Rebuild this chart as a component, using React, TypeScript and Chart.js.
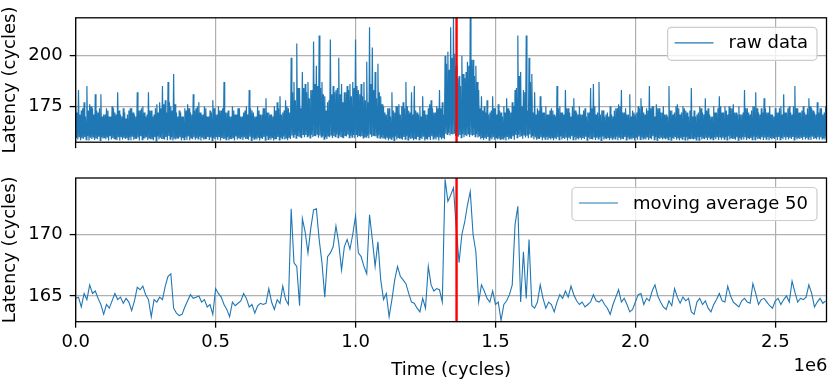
import React, { useEffect, useRef } from 'react';
import { Chart, registerables } from 'chart.js';

Chart.register(...registerables);

const SAMPLE_STEP = 10000;
const X_MAX = 2683000;
const MARKER_X = 1361000;

const xTicks = [0, 500000, 1000000, 1500000, 2000000, 2500000];
const rawYTicks = [175, 200];
const avgYTicks = [165, 170];
const rawYRange = [157.3, 218.7];
const avgYRange = [162.9, 174.6];

const rawLabel = 'raw data';
const avgLabel = 'moving average 50';
const xTitle = 'Time (cycles)';
const yTitle = 'Latency (cycles)';
const xOffsetText = '1e6';

// spike tops of the raw data per 10k-cycle bin
const rawHigh = [
  175, 183, 173, 177, 185, 176, 174, 181, 172, 181,
  171, 174, 170, 175, 172, 182, 171, 174, 169, 173,
  174, 171, 182, 173, 175, 170, 182, 173, 171, 176,
  177, 185, 178, 187, 175, 191, 172, 173, 170, 174,
  176, 172, 181, 174, 177, 171, 175, 170, 173, 178,
  171, 175, 173, 187, 172, 170, 175, 171, 174, 170,
  172, 175, 183, 173, 170, 175, 171, 174, 179, 172,
  171, 175, 177, 180, 172, 178, 174, 199, 187, 206,
  184, 192, 186, 187, 183, 207, 195, 210, 187, 180,
  177, 208, 185, 183, 199, 186, 182, 185, 186, 187,
  208, 183, 186, 187, 197, 214, 204, 192, 196, 180,
  175, 171, 174, 182, 172, 175, 171, 177, 187, 173,
  182, 185, 172, 175, 180, 171, 174, 178, 172, 175,
  183, 177, 200, 202, 214, 222, 195, 190, 200, 189,
  197, 222, 198, 195, 183, 180, 175, 178, 172, 180,
  174, 176, 172, 175, 179, 173, 177, 183, 210, 192,
  183, 210, 199, 191, 182, 174, 180, 172, 175, 171,
  174, 171, 185, 175, 172, 183, 174, 170, 179, 172,
  175, 171, 174, 172, 184, 186, 171, 187, 173, 170,
  172, 175, 170, 174, 176, 183, 172, 171, 181, 173,
  171, 175, 179, 172, 174, 185, 175, 170, 174, 172,
  175, 171, 185, 173, 172, 176, 171, 175, 173, 170,
  184, 173, 171, 175, 172, 179, 174, 170, 175, 172,
  180, 172, 175, 171, 174, 176, 172, 175, 171, 183,
  174, 171, 175, 182, 172, 174, 179, 172, 175, 171,
  174, 172, 175, 181, 172, 175, 171, 185, 174, 172,
  175, 171, 179, 174, 172, 177, 174, 171, 175,
];

// typical top of the dense raw band per bin
const rawMid = [
  172, 171, 174, 170, 173, 175, 171, 173, 174, 170,
  171, 173, 170, 174, 171, 173, 170, 172, 171, 174,
  172, 170, 173, 174, 172, 171, 173, 170, 174, 172,
  174, 176, 172, 177, 173, 176, 170, 172, 170, 173,
  174, 171, 173, 175, 172, 171, 174, 170, 172, 174,
  171, 173, 174, 172, 173, 170, 173, 171, 174, 170,
  173, 171, 174, 172, 170, 173, 171, 174, 172, 171,
  170, 173, 174, 171, 173, 175, 172, 182, 178, 184,
  174, 184, 182, 179, 183, 186, 185, 184, 181, 173,
  178, 181, 182, 184, 181, 177, 182, 183, 180, 184,
  185, 181, 180, 178, 177, 186, 183, 179, 182, 176,
  172, 174, 170, 173, 175, 176, 175, 174, 175, 172,
  171, 173, 171, 170, 173, 171, 176, 174, 172, 174,
  174, 171, 196, 193, 199, 201, 189, 185, 191, 192,
  195, 198, 190, 187, 174, 173, 172, 171, 173, 174,
  171, 173, 170, 172, 174, 172, 175, 184, 190, 175,
  182, 173, 187, 172, 171, 173, 175, 172, 171, 173,
  173, 170, 174, 172, 171, 174, 172, 175, 173, 171,
  171, 173, 170, 172, 174, 175, 172, 171, 173, 171,
  170, 171, 173, 174, 175, 172, 174, 171, 170, 172,
  172, 174, 175, 171, 173, 174, 175, 176, 174, 172,
  171, 170, 173, 171, 175, 174, 172, 174, 172, 173,
  170, 170, 172, 174, 171, 173, 171, 170, 172, 174,
  175, 172, 173, 175, 174, 172, 171, 171, 172, 174,
  172, 173, 175, 174, 171, 172, 174, 172, 171, 170,
  172, 174, 171, 172, 174, 172, 175, 174, 172, 173,
  172, 174, 175, 173, 171, 172, 174, 172, 172,
];

// lower dips of the raw data per bin (first half)
const rawLow = [
  159.4, 160.1, 159.2, 159.8, 160.3, 159.5, 159.9, 159.1, 160.0, 159.6,
  159.3, 159.9, 160.2, 159.4, 158.6, 159.7, 160.1, 159.5, 159.2, 159.8,
  160.0, 159.3, 159.6, 160.2, 159.1, 159.8, 159.4, 158.8, 159.7, 160.1,
  159.5, 159.2, 159.9, 160.3, 159.6, 159.0, 159.4, 159.8, 159.3, 159.7,
  160.1, 159.4, 159.8, 159.2, 160.0, 159.5, 159.1, 159.9, 159.6, 159.3,
  159.8, 160.2, 159.4, 159.0, 159.7, 158.9, 159.5, 160.1, 159.3, 159.8,
  159.6, 159.2, 160.0, 159.4, 159.1, 159.8, 159.5, 159.9, 160.2, 159.3,
  159.7, 159.1, 159.9, 159.5, 160.1, 159.4, 159.8, 160.6, 160.9, 160.4,
  159.9, 161.2, 160.8, 160.5, 161.0, 160.7, 161.3, 160.6, 160.2, 159.6,
  160.4, 160.9, 160.3, 161.1, 160.6, 159.8, 160.7, 161.0, 160.5, 160.9,
  161.2, 160.6, 160.3, 159.9, 160.5, 161.4, 160.8, 160.2, 160.7, 159.8,
  159.4, 159.8, 159.0, 159.6, 160.1, 159.7, 159.3, 159.9, 160.2, 159.5,
  159.6, 159.2, 159.9, 159.4, 160.0, 159.1, 159.8, 160.3, 159.5, 159.7,
  159.9, 159.4, 161.5, 162.0, 161.3, 161.8, 160.6, 160.9, 161.2, 160.7,
  161.4, 161.0, 160.8, 161.2, 160.1, 159.7, 159.4, 159.9, 159.2, 159.8,
  159.5, 159.1, 158.7, 159.6, 159.9, 159.4, 160.2, 160.8, 161.0, 160.3,
  160.9, 160.5, 161.1, 160.4, 159.8, 159.3, 159.7, 159.5, 159.9, 159.2,
  159.6, 159.3, 159.8, 160.1, 159.4, 159.9, 159.5, 160.2, 159.7, 159.1,
  159.8, 159.4, 160.0, 159.6, 159.2, 159.9, 159.5, 159.8, 160.1, 159.4,
  159.7, 159.2, 159.5, 160.0, 159.8, 159.3, 159.9, 159.6, 159.1, 159.5,
  159.8, 160.1, 159.6, 159.3, 159.9, 159.5, 160.2, 159.7, 159.4, 159.8,
  159.5, 159.1, 159.8, 159.4, 160.0, 159.6, 159.3, 159.9, 159.7, 159.2,
  159.3, 159.0, 159.7, 159.9, 159.4, 159.8, 159.5, 159.2, 159.6, 160.0,
  159.9, 159.5, 159.8, 160.2, 159.6, 159.3, 159.7, 159.4, 159.8, 160.1,
  159.6, 159.4, 160.0, 159.7, 159.3, 159.8, 159.5, 159.9, 159.2, 159.6,
  159.7, 159.9, 159.4, 159.8, 160.1, 159.5, 159.9, 159.6, 159.3, 159.8,
  159.9, 159.4, 159.7, 160.0, 159.5, 159.8, 159.6, 159.3, 159.7,
];

// deepest dips of the raw data per bin (second half)
const rawLowB = [
  158.7, 158.3, 159.0, 158.5, 158.1, 158.9, 158.4, 158.8, 158.2, 159.1,
  158.8, 158.2, 158.6, 159.0, 158.4, 158.1, 158.7, 158.9, 158.5, 158.3,
  158.5, 158.9, 158.2, 158.6, 159.1, 158.4, 158.8, 158.3, 158.0, 158.7,
  158.9, 158.6, 158.3, 158.8, 158.1, 158.7, 159.0, 158.2, 158.6, 158.4,
  158.3, 158.8, 158.5, 158.9, 158.2, 158.7, 159.0, 158.4, 158.1, 158.8,
  158.5, 158.1, 158.9, 158.6, 158.3, 158.8, 158.2, 158.7, 159.0, 158.4,
  158.9, 158.5, 158.2, 158.8, 158.6, 158.1, 158.9, 158.3, 158.7, 158.5,
  158.2, 158.8, 158.4, 159.0, 158.6, 158.3, 158.9, 159.8, 159.3, 160.0,
  159.2, 159.7, 160.1, 159.4, 159.9, 160.2, 159.5, 159.9, 158.8, 158.9,
  159.8, 159.4, 160.0, 159.6, 159.9, 159.2, 160.1, 159.5, 159.8, 159.3,
  159.7, 160.0, 159.4, 159.8, 159.2, 159.9, 160.2, 159.6, 159.3, 159.1,
  158.7, 158.3, 158.8, 158.2, 158.6, 159.0, 158.5, 158.8, 158.4, 158.9,
  158.3, 158.7, 158.5, 158.9, 158.2, 158.6, 158.4, 158.9, 158.7, 158.2,
  158.6, 158.8, 161.2, 160.6, 161.1, 160.4, 160.0, 159.6, 159.8, 160.3,
  159.9, 160.5, 160.1, 159.6, 158.8, 158.4, 158.9, 158.3, 158.7, 158.5,
  158.8, 158.4, 158.9, 158.2, 158.6, 158.9, 158.5, 159.6, 159.9, 159.0,
  159.6, 159.2, 159.8, 158.7, 158.5, 158.9, 158.3, 158.8, 158.4, 158.7,
  158.3, 158.8, 158.5, 158.7, 158.9, 158.2, 158.8, 158.5, 158.3, 158.6,
  158.5, 158.9, 158.3, 158.8, 158.6, 158.4, 158.9, 158.2, 158.7, 158.8,
  158.4, 158.8, 158.9, 158.3, 158.5, 158.8, 158.4, 158.9, 158.6, 158.2,
  158.5, 158.7, 158.9, 158.6, 158.4, 158.8, 158.5, 158.3, 158.9, 158.6,
  158.8, 158.6, 158.3, 158.9, 158.5, 158.3, 158.8, 158.4, 158.2, 158.8,
  158.7, 158.4, 158.3, 158.6, 158.8, 158.4, 158.9, 158.6, 158.8, 158.4,
  158.5, 158.8, 158.4, 158.7, 158.9, 158.5, 158.3, 158.8, 158.6, 158.4,
  158.8, 158.6, 158.5, 158.9, 158.6, 158.4, 158.8, 158.3, 158.7, 158.9,
  158.4, 158.6, 158.8, 158.5, 158.7, 158.9, 158.4, 158.6, 158.9, 158.5,
  158.6, 158.8, 158.4, 158.9, 158.7, 158.5, 158.9, 158.7, 158.4,
];

// moving average (window 50), one value per 10k cycles
const movingAvg = [
  164.8, 164.9, 164.1, 165.2, 164.7, 165.9, 165.2, 165.4, 164.8, 164.3,
  163.5, 164.3, 164.0, 164.6, 165.2, 164.7, 164.9, 164.4, 164.8, 164.5,
  163.8, 164.6, 165.7, 165.5, 165.8, 165.1, 164.7, 163.3, 164.7, 164.5,
  164.9, 164.7, 165.8, 166.6, 166.8, 164.0, 163.6, 163.4, 163.5, 164.1,
  164.6, 165.1, 164.8, 164.9, 165.0, 164.5, 164.7, 164.1, 164.3, 163.5,
  165.6, 165.2, 164.9, 164.3, 163.9, 163.3, 164.5, 164.2, 164.4, 164.6,
  165.2, 164.8, 164.1, 164.3, 163.6, 164.2, 164.4, 164.3, 164.4, 165.6,
  164.5, 163.9, 164.7, 164.4, 165.8, 164.7, 164.3, 172.1, 167.7, 167.4,
  164.2, 171.3, 170.2, 168.5, 170.5, 172.0, 172.1, 169.6, 167.7, 164.9,
  168.2, 168.5, 169.0, 170.7, 169.3, 167.1, 169.0, 169.6, 168.8, 170.0,
  171.5, 168.5, 168.2, 167.4, 166.8, 171.6, 169.6, 167.4, 169.4, 166.3,
  164.7, 165.2, 163.3, 164.7, 166.3, 167.4, 166.6, 166.3, 166.0, 165.2,
  164.5, 164.4, 164.0, 163.7, 164.8, 164.0, 167.4, 165.9, 165.4, 165.6,
  165.5, 164.5, 174.5, 172.7, 173.2, 173.8, 170.5, 167.7, 170.0, 171.0,
  172.4, 173.5, 170.0, 168.6, 164.5, 165.9, 165.4, 164.8, 164.5, 165.4,
  164.3, 164.5, 163.0, 164.3, 164.6, 165.1, 165.9, 170.8, 172.3, 164.5,
  168.6, 164.8, 169.6, 164.2, 164.0, 164.5, 165.9, 164.8, 164.0, 164.5,
  164.3, 163.7, 164.5, 165.1, 164.8, 165.4, 164.9, 165.8, 165.1, 164.6,
  164.3, 164.5, 164.1, 164.3, 164.5, 165.1, 164.6, 164.5, 164.7, 164.3,
  164.0, 163.5, 164.3, 164.9, 165.5, 164.5, 164.8, 164.3, 163.7, 163.9,
  164.5, 165.1, 165.2, 164.3, 164.8, 164.6, 165.4, 165.9, 165.0, 164.5,
  164.1, 163.9, 164.6, 164.2, 165.6, 164.9, 164.4, 164.9, 164.6, 164.8,
  163.7, 163.5, 164.5, 164.8, 164.3, 164.6, 164.0, 163.7, 164.3, 164.7,
  165.2, 164.6, 164.5, 165.8, 165.0, 164.5, 164.3, 164.1, 164.6, 164.8,
  164.5, 164.4, 166.0, 165.2, 164.3, 164.7, 164.8, 164.5, 164.2, 164.0,
  164.6, 164.8, 164.3, 164.7, 165.0, 164.5, 166.2, 165.3, 164.5, 164.8,
  164.7, 164.9, 165.9, 165.2, 164.1, 164.5, 164.8, 164.4, 164.6,
];

const BLUE = '#1f77b4';
const FONT_FAMILY = '"DejaVu Sans", sans-serif';
const FONT_SIZE = 18;

function rawPoints() {
  const pts: { x: number; y: number }[] = [];
  const q = SAMPLE_STEP / 4;
  for (let i = 0; i < rawHigh.length; i++) {
    const t = i * SAMPLE_STEP;
    pts.push({ x: t, y: rawHigh[i] });
    pts.push({ x: t + q, y: rawLow[i] });
    pts.push({ x: t + 2 * q, y: rawMid[i] });
    pts.push({ x: t + 3 * q, y: rawLowB[i] });
  }
  return pts;
}

function avgPoints() {
  return movingAvg.map((v, i) => ({ x: i * SAMPLE_STEP, y: v }));
}

const mplPlugin = {
  id: 'mplDecor',
  afterDatasetsDraw(chart: any, _args: any, opts: any) {
    const { ctx, chartArea, scales } = chart;
    const px = scales.x.getPixelForValue(opts.markerX);
    ctx.save();
    ctx.strokeStyle = '#ff0000';
    ctx.lineWidth = 2.4;
    ctx.beginPath();
    ctx.moveTo(px, chartArea.top);
    ctx.lineTo(px, chartArea.bottom);
    ctx.stroke();
    ctx.restore();
  },
  afterDraw(chart: any, _args: any, opts: any) {
    const { ctx, chartArea } = chart;
    ctx.save();
    ctx.strokeStyle = '#000';
    ctx.lineWidth = 1.3;
    ctx.strokeRect(chartArea.left, chartArea.top, chartArea.right - chartArea.left, chartArea.bottom - chartArea.top);
    ctx.font = `${FONT_SIZE}px ${FONT_FAMILY}`;
    const tw = ctx.measureText(opts.label).width;
    const w = 7 + 39 + 15 + tw + 9;
    const h = 33;
    const right = chartArea.right - 9.5;
    const top = chartArea.top + 9.5;
    const left = right - w;
    ctx.beginPath();
    if (ctx.roundRect) ctx.roundRect(left, top, w, h, 4);
    else ctx.rect(left, top, w, h);
    ctx.fillStyle = 'rgba(255,255,255,0.8)';
    ctx.fill();
    ctx.strokeStyle = '#cccccc';
    ctx.lineWidth = 1.2;
    ctx.stroke();
    ctx.strokeStyle = BLUE;
    ctx.lineWidth = 1.2;
    ctx.beginPath();
    ctx.moveTo(left + 7, top + h / 2 - 1);
    ctx.lineTo(left + 46, top + h / 2 - 1);
    ctx.stroke();
    ctx.fillStyle = '#000';
    ctx.textBaseline = 'middle';
    ctx.textAlign = 'left';
    ctx.fillText(opts.label, left + 61, top + h / 2);
    if (opts.offsetText) {
      ctx.textAlign = 'right';
      ctx.fillText(opts.offsetText, chartArea.right + 1, opts.offsetY);
    }
    ctx.restore();
  },
};

function makeConfig(kind: 'raw' | 'avg'): any {
  const isRaw = kind === 'raw';
  const font = { family: FONT_FAMILY, size: FONT_SIZE };
  const yRange = isRaw ? rawYRange : avgYRange;
  const yTicks = isRaw ? rawYTicks : avgYTicks;
  return {
    type: 'line',
    data: {
      datasets: [
        {
          label: isRaw ? rawLabel : avgLabel,
          data: isRaw ? rawPoints() : avgPoints(),
          borderColor: BLUE,
          borderWidth: isRaw ? 1.2 : 1.1,
          pointRadius: 0,
          fill: false,
          tension: 0,
        },
      ],
    },
    options: {
      animation: false,
      responsive: false,
      maintainAspectRatio: false,
      events: [],
      layout: { padding: { top: isRaw ? 4 : 18, right: 3.5, left: 0, bottom: 0 } },
      plugins: {
        legend: { display: false },
        tooltip: { enabled: false },
        mplDecor: {
          markerX: MARKER_X,
          label: isRaw ? rawLabel : avgLabel,
          offsetText: isRaw ? null : xOffsetText,
          offsetY: 206,
        },
      },
      scales: {
        x: {
          type: 'linear',
          min: 0,
          max: X_MAX,
          afterBuildTicks: (s: any) => {
            s.ticks = xTicks.map((v) => ({ value: v }));
          },
          afterFit: (s: any) => {
            s.height = isRaw ? 12.7 : 59.3;
          },
          grid: {
            color: '#b0b0b0',
            lineWidth: 1.2,
            tickColor: '#000',
            tickLength: 6,
            tickWidth: 1.3,
          },
          border: { display: false },
          ticks: {
            display: !isRaw,
            autoSkip: false,
            maxRotation: 0,
            padding: 4,
            color: '#000',
            font,
            callback: (v: number) => (v / 1e6).toFixed(1),
          },
          title: {
            display: !isRaw,
            text: xTitle,
            color: '#000',
            font,
            padding: { top: 0, bottom: 0 },
          },
        },
        y: {
          type: 'linear',
          min: yRange[0],
          max: yRange[1],
          afterBuildTicks: (s: any) => {
            s.ticks = yTicks.map((v) => ({ value: v }));
          },
          afterFit: (s: any) => {
            s.width = 75.7;
          },
          grid: {
            color: '#b0b0b0',
            lineWidth: 1.2,
            tickColor: '#000',
            tickLength: 6,
            tickWidth: 1.3,
          },
          border: { display: false },
          ticks: {
            padding: 7,
            color: '#000',
            font,
            callback: (v: number) => String(v),
          },
          title: {
            display: true,
            text: yTitle,
            color: '#000',
            font,
            padding: { top: 0, bottom: 0 },
          },
        },
      },
    },
    plugins: [mplPlugin],
  };
}

export default function App() {
  const topRef = useRef<HTMLCanvasElement>(null);
  const botRef = useRef<HTMLCanvasElement>(null);

  useEffect(() => {
    const c1 = new Chart(topRef.current!, makeConfig('raw'));
    const c2 = new Chart(botRef.current!, makeConfig('avg'));
    return () => {
      c1.destroy();
      c2.destroy();
    };
  }, []);

  return (
    <div style={{ position: 'absolute', left: 0, top: 0, width: 830, height: 381, background: '#fff' }}>
      <canvas
        ref={topRef}
        width={830}
        height={160}
        style={{ position: 'absolute', left: 0, top: 0, width: 830, height: 160 }}
      />
      <canvas
        ref={botRef}
        width={830}
        height={221}
        style={{ position: 'absolute', left: 0, top: 160, width: 830, height: 221 }}
      />
    </div>
  );
}
